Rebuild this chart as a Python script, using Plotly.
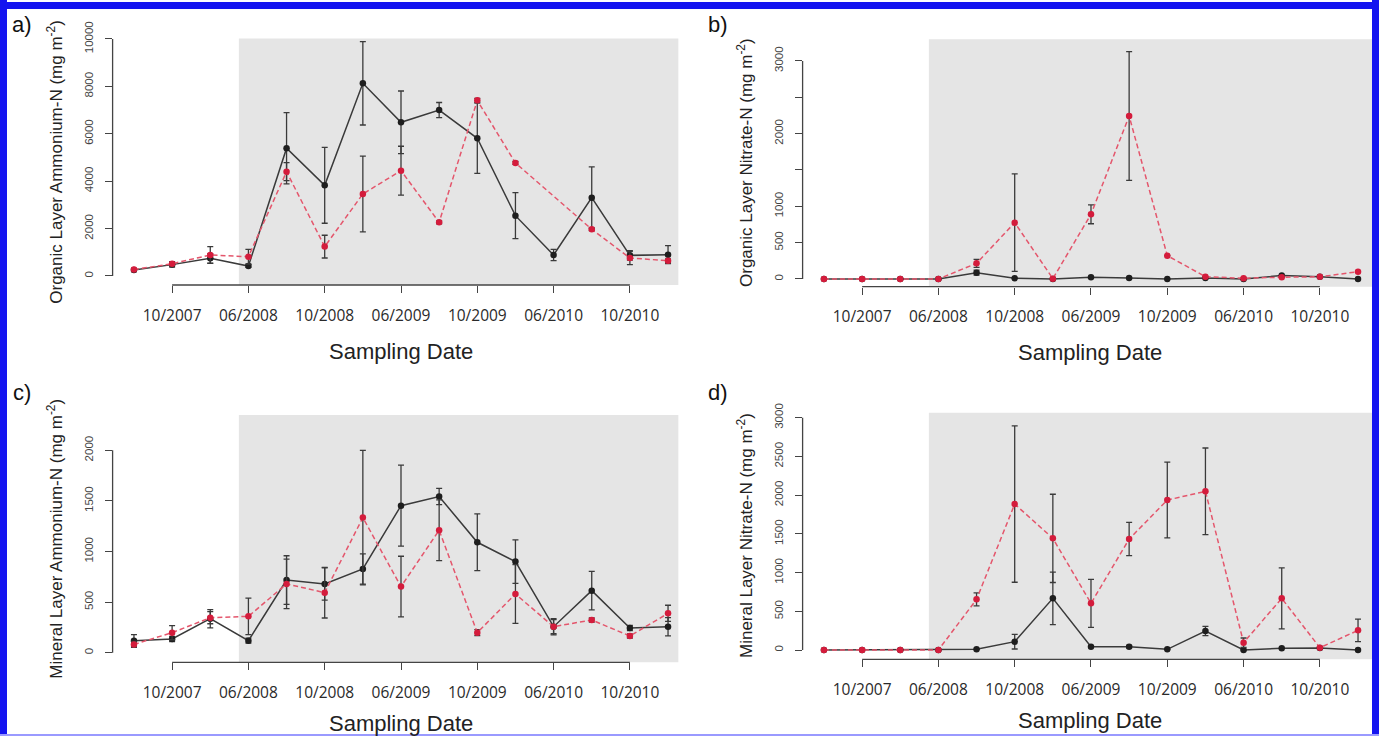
import plotly.graph_objects as go

W, H = 1379, 736

# ---------------- data ----------------
x_idx = list(range(1, 16))
tick_pos = [2, 4, 6, 8, 10, 12, 14]
tick_text = ["10/2007", "06/2008", "10/2008", "06/2009", "10/2009", "06/2010", "10/2010"]

# a) Organic layer ammonium-N
a_black = [250, 480, 745, 420, 5390, 3825, 8130, 6485, 7000, 5810, 2545, 885, 3305, 870, 900]
a_black_err = [60, 100, 200, 60, 1500, 1600, 1760, 1320, 320, 1480, 970, 240, 1300, 200, 380]
a_red = [270, 520, 885, 815, 4400, 1240, 3460, 4445, 2265, 7410, 4770, None, 1970, 760, 645]
a_red_err = [50, 80, 350, 310, 380, 480, 1600, 1030, 60, 80, 60, None, 60, 280, 80]

# b) Organic layer nitrate-N
b_black = [0, 0, 0, 0, 87, 9, 0, 25, 12, 0, 15, 0, 48, 30, 0]
b_black_err = [None, None, None, None, 35, None, None, None, None, None, None, None, None, None, None]
b_red = [0, 0, 0, 0, 215, 775, 5, 890, 2242, 321, 32, 10, 25, 30, 101]
b_red_err = [None, None, None, None, 55, 670, None, 130, 885, None, None, None, None, None, None]

# c) Mineral layer ammonium-N
c_black = [119, 135, 336, 119, 718, 679, 827, 1453, 1543, 1091, 900, 257, 613, 244, 257]
c_black_err = [60, 25, 90, 25, 240, 160, 150, 400, 80, 280, 215, 80, 190, 25, 90]
c_red = [82, 198, 346, 359, 680, 593, 1335, 653, 1210, 198, 580, 257, 323, 165, 389]
c_red_err = [30, 70, 60, 180, 245, 250, 665, 300, 300, 30, 290, 70, 20, 20, 80]

# d) Mineral layer nitrate-N
d_black = [0, 0, 0, 0, 9, 108, 667, 43, 43, 9, 245, 0, 22, 26, 0]
d_black_err = [None, None, None, None, None, 95, 340, None, 15, None, 60, None, None, None, None]
d_red = [0, 0, 0, 0, 654, 1885, 1442, 603, 1433, 1937, 2049, 95, 667, 30, 254]
d_red_err = [None, None, None, None, 85, 1010, 570, 310, 215, 490, 560, 60, 395, None, 145]

y_titles = [
    "Organic Layer Ammonium-N (mg m<sup>-2</sup>)",
    "Organic Layer Nitrate-N (mg m<sup>-2</sup>)",
    "Mineral Layer Ammonium-N (mg m<sup>-2</sup>)",
    "Mineral Layer Nitrate-N (mg m<sup>-2</sup>)",
]
panel_labels = ["a)", "b)", "c)", "d)"]
y_ticks = [
    [0, 2000, 4000, 6000, 8000, 10000],
    [0, 500, 1000, 2000, 3000],
    [0, 500, 1000, 1500, 2000],
    [0, 500, 1000, 1500, 2000, 2500, 3000],
]
y_ticktext = [
    ["0", "2000", "4000", "6000", "8000", "10000"],
    ["0", "500", "1000", "2000", "3000"],
    ["0", "500", "1000", "1500", "2000"],
    ["0", "500", "1000", "1500", "2000", "2500", "3000"],
]
y_minor_ticks = [[], [1500, 2500], [], []]
treat_start = 3.75

# ---------------- layout geometry (pixels) ----------------
panels = [
    dict(xpx=(112.6, 689.4), xr=(0.44, 15.56), ypx=(38.5, 285.0), yr=(-380, 10020), gray_x1=15.27),
    dict(xpx=(802.6, 1377.1), xr=(0.44, 15.5), ypx=(39.3, 286.7), yr=(-106, 3297), gray_x1=15.5),
    dict(xpx=(112.6, 689.4), xr=(0.44, 15.56), ypx=(415.0, 662.3), yr=(-95, 2349), gray_x1=15.27),
    dict(xpx=(802.6, 1377.1), xr=(0.44, 15.5), ypx=(412.7, 659.3), yr=(-120, 3065), gray_x1=15.5),
]
series = [
    (a_black, a_black_err, a_red, a_red_err),
    (b_black, b_black_err, b_red, b_red_err),
    (c_black, c_black_err, c_red, c_red_err),
    (d_black, d_black_err, d_red, d_red_err),
]

BLACK = "#1e1e1e"
LINE_BLACK = "#3a3a3a"
RED = "#d41c3c"
LINE_RED = "#e4566c"
ERR = "#3a3a3a"
GRAY = "#e5e5e5"
AX = "#444444"

fig = go.Figure()
shapes = []
annotations = []

for i, (p, s) in enumerate(zip(panels, series)):
    n = "" if i == 0 else str(i + 1)
    xa, ya = "x" + n, "y" + n
    blk, blk_e, red, red_e = s

    fig.add_trace(go.Scatter(
        x=x_idx, y=blk, xaxis=xa, yaxis=ya, mode="lines+markers",
        line=dict(color=LINE_BLACK, width=1.5),
        marker=dict(color=BLACK, size=6.5),
        error_y=dict(type="data", array=blk_e, visible=True, color=ERR, thickness=1.3, width=3),
        showlegend=False, connectgaps=True,
    ))
    fig.add_trace(go.Scatter(
        x=x_idx, y=red, xaxis=xa, yaxis=ya, mode="lines+markers",
        line=dict(color=LINE_RED, width=1.5, dash="5px,3px"),
        marker=dict(color=RED, size=6.5),
        error_y=dict(type="data", array=red_e, visible=True, color=ERR, thickness=1.3, width=3),
        showlegend=False, connectgaps=True,
    ))

    xd = (p["xpx"][0] / W, p["xpx"][1] / W)
    yd = (1 - p["ypx"][1] / H, 1 - p["ypx"][0] / H)
    fig.layout["xaxis" + n] = dict(
        domain=list(xd), range=list(p["xr"]), anchor=ya, automargin=False,
        showgrid=False, zeroline=False, showline=False,
        ticks="outside", ticklen=7, tickwidth=1.2, tickcolor=AX,
        tickvals=tick_pos, ticktext=tick_text,
        tickfont=dict(family="Open Sans", size=15.5, color="#2a2a2a"),
        ticklabelstandoff=9,
    )
    yax = dict(
        domain=list(yd), range=list(p["yr"]), anchor=xa, automargin=False,
        showgrid=False, zeroline=False, showline=False,
        ticks="outside", ticklen=7, tickwidth=1.2, tickcolor=AX,
        tickvals=y_ticks[i], ticktext=y_ticktext[i], tickangle=-90,
        tickfont=dict(family="Liberation Sans", size=11.5, color="#444444"),
        ticklabelstandoff=7,
    )
    if y_minor_ticks[i]:
        yax["minor"] = dict(tickmode="array", tickvals=y_minor_ticks[i], ticks="outside",
                            ticklen=7, tickwidth=1.2, tickcolor=AX, showgrid=False)
    fig.layout["yaxis" + n] = yax

    # gray treatment period background
    shapes.append(dict(type="rect", xref=xa, yref=ya + " domain", x0=treat_start, x1=p["gray_x1"],
                       y0=0, y1=1, fillcolor=GRAY, line=dict(width=0), layer="below"))
    # detached axis lines (R style)
    shapes.append(dict(type="line", xref=xa, yref=ya + " domain", x0=tick_pos[0], x1=tick_pos[-1],
                       y0=0, y1=0, line=dict(color=AX, width=1.3)))
    y_all = sorted(y_ticks[i] + y_minor_ticks[i])
    shapes.append(dict(type="line", xref=xa + " domain", yref=ya, x0=0, x1=0,
                       y0=y_all[0], y1=y_all[-1], line=dict(color=AX, width=1.3)))

    # texts
    ymid = 1 - (p["ypx"][0] + p["ypx"][1]) / 2 / H
    xmid = (p["xpx"][0] + p["xpx"][1]) / 2 / W
    ytitle_x = (55 if i % 2 == 0 else 745) / W
    annotations.append(dict(text=y_titles[i], xref="paper", yref="paper", x=ytitle_x, y=ymid,
                            textangle=-90, showarrow=False, xanchor="center", yanchor="middle",
                            font=dict(family="Liberation Sans", size=17, color="#222222")))
    xt_y = 1 - (p["ypx"][1] + (66 if i < 2 else 61)) / H
    annotations.append(dict(text="Sampling Date", xref="paper", yref="paper", x=xmid, y=xt_y,
                            showarrow=False, xanchor="center", yanchor="middle",
                            font=dict(family="Liberation Sans", size=22, color="#222222")))
    lab_x = (22 if i % 2 == 0 else 718) / W
    lab_y = 1 - ((25 if i < 2 else 392)) / H
    annotations.append(dict(text=panel_labels[i], xref="paper", yref="paper", x=lab_x, y=lab_y,
                            showarrow=False, xanchor="center", yanchor="middle",
                            font=dict(family="Liberation Sans", size=22, color="#111111")))

# blue frame
BLUE = "#1414f0"
shapes += [
    dict(type="rect", xref="paper", yref="paper", x0=0, x1=1, y0=1 - 9 / H, y1=1 - 2 / H,
         fillcolor=BLUE, line=dict(width=0), layer="above"),
    dict(type="rect", xref="paper", yref="paper", x0=0, x1=7 / W, y0=0, y1=1,
         fillcolor=BLUE, line=dict(width=0), layer="above"),
    dict(type="rect", xref="paper", yref="paper", x0=1372 / W, x1=1, y0=0, y1=1,
         fillcolor=BLUE, line=dict(width=0), layer="above"),
    dict(type="rect", xref="paper", yref="paper", x0=0, x1=1, y0=0, y1=2 / H,
         fillcolor="#9a9aff", line=dict(width=0), layer="above"),
]

fig.update_layout(
    width=W, height=H, autosize=False,
    margin=dict(l=0, r=0, t=0, b=0, pad=0, autoexpand=False),
    paper_bgcolor="white", plot_bgcolor="rgba(0,0,0,0)",
    shapes=shapes, annotations=annotations,
    showlegend=False,
)

post = (
    "document.documentElement.style.margin='0';"
    "document.body.style.margin='0';document.body.style.overflow='hidden';"
    "var gd=document.getElementById('{plot_id}');"
    "gd.style.position='fixed';gd.style.top='0px';gd.style.left='0px';"
)
fig.write_html("out.html", config={"displayModeBar": False}, post_script=post)
